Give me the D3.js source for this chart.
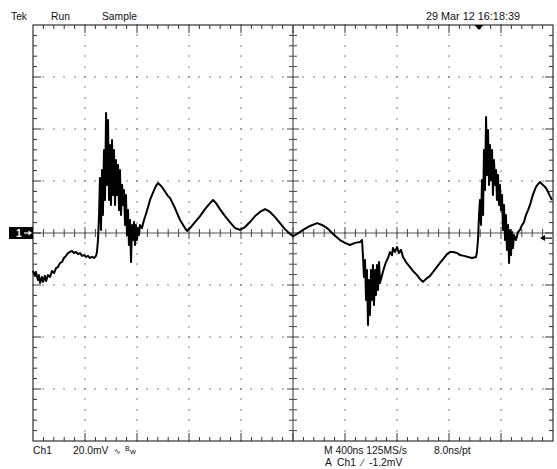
<!DOCTYPE html>
<html>
<head>
<meta charset="utf-8">
<script src="https://cdn.jsdelivr.net/npm/d3@7"></script>
<style>
  body { margin: 0; background: #fff; }
  svg text { font-family: "Liberation Sans", Arial, sans-serif; font-size: 10.3px; fill: #111; }
</style>
</head>
<body>
<svg id="scope" width="557" height="469"></svg>
<script>
// scope settings
const timeRange = [-2000, 2000];   // ns, 400 ns/div, 10 div
const voltRange = [-80, 80];       // mV, 20 mV/div, 8 div
const timePerDiv = 400;
const voltPerDiv = 20;
const triggerTime = 1430;          // ns, marker at top
const triggerLevel = -1.2;         // mV

const headerLabels = ["Tek", "Run", "Sample"];
const dateLabel = "29 Mar 12 16:18:39";
const footerLeft = ["Ch1", "20.0mV"];
const footerRight = ["M 400ns 125MS/s", "8.0ns/pt"];
const triggerLabel = "A  Ch1  \u2215  -1.2mV";

// trace: [time ns, mV]
const trace = [
  [-2000,-14.6],[-1985,-16.5],[-1977,-15.0],[-1962,-18.1],[-1954,-16.2],[-1946,-19.2],[-1931,-16.9],[-1923,-18.8],
  [-1908,-16.5],[-1900,-18.5],[-1885,-16.2],[-1869,-16.9],[-1854,-14.6],[-1838,-15.4],[-1823,-13.5],[-1808,-13.1],
  [-1792,-11.5],[-1777,-11.2],[-1762,-9.6],[-1746,-8.8],[-1731,-7.7],[-1715,-7.3],[-1700,-6.9],[-1685,-7.7],
  [-1669,-7.3],[-1654,-8.1],[-1638,-7.7],[-1623,-8.8],[-1608,-8.5],[-1592,-9.2],[-1577,-8.8],[-1562,-9.6],
  [-1546,-9.2],[-1531,-9.6],[-1515,-8.8],[-1508,-7.3],[-1500,-2.7],[-1492,6.9],[-1485,21.2],[-1477,1.2],
  [-1469,24.2],[-1462,6.9],[-1454,31.9],[-1446,12.7],[-1438,46.2],[-1431,18.5],[-1423,43.5],[-1415,12.7],
  [-1408,33.8],[-1400,10.8],[-1392,35.8],[-1385,14.6],[-1377,31.9],[-1369,10.8],[-1362,28.1],[-1354,14.6],
  [-1346,26.2],[-1338,8.8],[-1331,24.2],[-1323,6.9],[-1315,18.5],[-1308,10.8],[-1300,16.5],[-1292,3.1],
  [-1285,14.6],[-1277,-0.8],[-1269,8.8],[-1262,-4.6],[-1254,5.0],[-1246,-11.2],[-1238,3.1],[-1231,-2.7],
  [-1223,4.2],[-1215,-4.6],[-1208,3.1],[-1200,-2.7],[-1192,1.9],[-1185,-0.8],[-1177,3.1],[-1162,1.9],
  [-1146,5.0],[-1131,7.3],[-1115,10.0],[-1100,12.7],[-1085,14.6],[-1069,16.5],[-1054,18.1],[-1038,19.2],
  [-1023,18.5],[-1008,17.7],[-992,16.5],[-977,15.4],[-962,14.2],[-946,13.5],[-908,9.6],[-869,5.0],
  [-831,1.9],[-815,0.8],[-792,1.9],[-754,4.2],[-715,6.5],[-677,9.2],[-638,11.5],[-615,12.7],
  [-592,11.5],[-562,9.2],[-523,6.5],[-485,4.2],[-446,1.9],[-408,1.2],[-369,2.3],[-331,4.2],
  [-292,6.5],[-254,8.1],[-215,9.2],[-177,8.1],[-138,6.1],[-100,3.8],[-62,1.5],[-23,-0.4],
  [0,-1.2],[31,-0.4],[77,1.2],[131,2.7],[185,3.8],[223,3.1],[262,1.9],[308,-0.4],
  [362,-2.7],[400,-3.8],[438,-4.6],[477,-3.8],[515,-3.5],[531,-2.7],
  [538,-8.5],[546,-16.9],[554,-10.4],[562,-25.8],[569,-14.2],[577,-35.4],[585,-18.1],[592,-31.5],
  [600,-14.2],[608,-25.8],[615,-12.3],[623,-27.7],[631,-14.2],[638,-23.8],[646,-12.3],[654,-21.9],
  [662,-11.2],[669,-19.2],[685,-16.2],[700,-13.5],[715,-11.2],[731,-9.6],[746,-7.3],[762,-8.5],
  [769,-5.8],[785,-7.3],[800,-5.4],[815,-7.7],[831,-6.5],[846,-9.2],[869,-11.2],[900,-13.1],
  [923,-14.6],[954,-16.2],[977,-17.7],[1000,-18.8],[1023,-17.7],[1054,-16.5],[1077,-15.0],[1100,-13.5],
  [1131,-11.5],[1162,-9.6],[1185,-8.1],[1208,-7.3],[1231,-7.3],[1262,-7.7],[1285,-8.5],[1315,-8.8],
  [1346,-9.2],[1377,-9.6],[1408,-9.2],
  [1415,-7.3],[1423,-2.7],[1431,6.9],[1438,12.7],[1446,3.1],[1454,20.4],[1462,6.9],[1469,31.9],
  [1477,16.5],[1485,44.6],[1492,22.3],[1500,39.6],[1508,18.5],[1515,33.8],[1523,20.4],[1531,31.9],
  [1538,14.6],[1546,28.1],[1554,18.5],[1562,24.2],[1569,12.7],[1577,22.3],[1585,10.8],[1592,18.5],
  [1600,8.8],[1608,14.6],[1615,1.2],[1623,10.8],[1631,-2.7],[1638,6.9],[1646,-6.5],[1654,3.1],
  [1662,-11.5],[1669,1.2],[1677,-8.5],[1685,0.4],[1692,-5.8],[1700,-0.8],[1715,-2.7],[1731,0.4],
  [1746,1.2],[1762,3.1],[1777,4.2],[1792,6.9],[1808,8.8],[1823,10.8],[1838,13.5],[1854,15.8],
  [1869,17.7],[1885,18.8],[1900,19.6],[1915,18.8],[1931,18.1],[1946,17.3],[1962,15.8],[1977,14.2],
  [1992,12.7]
];

const svg = d3.select("#scope");
const x = d3.scaleLinear().domain(timeRange).range([33, 553]);
const y = d3.scaleLinear().domain(voltRange).range([441, 25]);

const xMajor = d3.range(timeRange[0], timeRange[1] + 1, timePerDiv);
const yMajor = d3.range(voltRange[0], voltRange[1] + 1, voltPerDiv);
const xMinor = d3.range(timeRange[0], timeRange[1] + 1, timePerDiv / 5);
const yMinor = d3.range(voltRange[0], voltRange[1] + 1, voltPerDiv / 5);

const grid = svg.append("g");

// dotted graticule lines
const dots = [];
xMajor.slice(1, -1).filter(t => t !== 0).forEach(t => yMinor.forEach(v => dots.push([t, v])));
yMajor.slice(1, -1).filter(v => v !== 0).forEach(v => xMinor.forEach(t => dots.push([t, v])));
grid.selectAll("rect.dot").data(dots).enter().append("rect")
  .attr("class", "dot")
  .attr("x", d => Math.round(x(d[0])) - 0.6)
  .attr("y", d => Math.round(y(d[1])) - 0.6)
  .attr("width", 1.3).attr("height", 1.3)
  .attr("fill", "#6a6a6a");

// centre cross
grid.append("line").attr("x1", x(timeRange[0])).attr("x2", x(timeRange[1]))
  .attr("y1", y(0)).attr("y2", y(0)).attr("stroke", "#555").attr("stroke-width", 1.2);
grid.append("line").attr("x1", x(0)).attr("x2", x(0))
  .attr("y1", y(voltRange[0])).attr("y2", y(voltRange[1])).attr("stroke", "#555").attr("stroke-width", 1.2);

grid.selectAll("line.ctx").data(xMinor.slice(1, -1)).enter().append("line")
  .attr("x1", d => x(d)).attr("x2", d => x(d))
  .attr("y1", d => y(0) - (d % timePerDiv === 0 ? 6 : 4))
  .attr("y2", d => y(0) + (d % timePerDiv === 0 ? 6 : 4))
  .attr("stroke", "#444").attr("stroke-width", 1);
grid.selectAll("line.cty").data(yMinor.slice(1, -1)).enter().append("line")
  .attr("y1", d => y(d)).attr("y2", d => y(d))
  .attr("x1", d => x(0) - (d % voltPerDiv === 0 ? 6 : 4))
  .attr("x2", d => x(0) + (d % voltPerDiv === 0 ? 6 : 4))
  .attr("stroke", "#444").attr("stroke-width", 1);

// frame and border ticks
grid.append("rect")
  .attr("x", x(timeRange[0])).attr("y", y(voltRange[1]))
  .attr("width", x(timeRange[1]) - x(timeRange[0]))
  .attr("height", y(voltRange[0]) - y(voltRange[1]))
  .attr("fill", "none").attr("stroke", "#333").attr("stroke-width", 1.2);

xMinor.slice(1, -1).forEach(t => {
  const len = t % timePerDiv === 0 ? 8 : 4;
  grid.append("line").attr("x1", x(t)).attr("x2", x(t))
    .attr("y1", y(voltRange[1])).attr("y2", y(voltRange[1]) + len).attr("stroke", "#333");
  grid.append("line").attr("x1", x(t)).attr("x2", x(t))
    .attr("y1", y(voltRange[0])).attr("y2", y(voltRange[0]) - len).attr("stroke", "#333");
});
yMinor.slice(1, -1).forEach(v => {
  const len = v % voltPerDiv === 0 ? 8 : 4;
  grid.append("line").attr("y1", y(v)).attr("y2", y(v))
    .attr("x1", x(timeRange[0])).attr("x2", x(timeRange[0]) + len).attr("stroke", "#333");
  grid.append("line").attr("y1", y(v)).attr("y2", y(v))
    .attr("x1", x(timeRange[1])).attr("x2", x(timeRange[1]) - len).attr("stroke", "#333");
});

// waveform
const line = d3.line().x(d => x(d[0])).y(d => y(d[1]));
svg.append("path").datum(trace)
  .attr("d", line)
  .attr("fill", "none").attr("stroke", "#000")
  .attr("stroke-width", 2).attr("stroke-linejoin", "round");

// trigger position marker (top)
const tx = x(triggerTime), ty = y(voltRange[1]);
svg.append("path")
  .attr("d", `M${tx - 4.5},${ty} L${tx + 4.5},${ty} L${tx},${ty + 5} Z`)
  .attr("fill", "#000");

// trigger level arrow (right)
const ly = y(triggerLevel) + 2;
svg.append("line").attr("x1", x(timeRange[1]) - 12).attr("x2", x(timeRange[1]) - 1)
  .attr("y1", ly).attr("y2", ly).attr("stroke", "#000").attr("stroke-width", 1.2);
svg.append("path")
  .attr("d", `M${x(timeRange[1]) - 13},${ly} l5,-3 l0,6 Z`).attr("fill", "#000");

// channel 1 ground marker (left)
const gy = y(0);
svg.append("rect").attr("x", 9).attr("y", gy - 6).attr("width", 24).attr("height", 12).attr("fill", "#000");
svg.append("text").attr("x", 16).attr("y", gy + 4).style("fill", "#fff").style("font-weight", "bold").text("1");
svg.append("line").attr("x1", 24).attr("x2", 31).attr("y1", gy).attr("y2", gy).attr("stroke", "#fff").attr("stroke-width", 1.2);
svg.append("path").attr("d", `M32,${gy} l-3.5,-2.5 l0,5 Z`).attr("fill", "#fff");

// header / footer text
const hx = [11, 51, 102];
svg.selectAll("text.hdr").data(headerLabels).enter().append("text")
  .attr("x", (d, i) => hx[i]).attr("y", 20).text(d => d);
svg.append("text").attr("x", 426).attr("y", 20)
  .attr("textLength", 94).attr("lengthAdjust", "spacingAndGlyphs").text(dateLabel);

svg.append("text").attr("x", 33).attr("y", 454).text(footerLeft[0]);
svg.append("text").attr("x", 73).attr("y", 454).text(footerLeft[1]);
svg.append("text").attr("x", 114).attr("y", 454).style("font-size", "8px").style("font-family", "DejaVu Sans").text("\u223F");
svg.append("text").attr("x", 125).attr("y", 451).style("font-size", "7px").text("B");
svg.append("text").attr("x", 130).attr("y", 454).style("font-size", "8px").text("w");

svg.append("text").attr("x", 324).attr("y", 454).text(footerRight[0]);
svg.append("text").attr("x", 434).attr("y", 454).text(footerRight[1]);
svg.append("text").attr("x", 325).attr("y", 466).attr("xml:space", "preserve").text(triggerLabel);
</script>
</body>
</html>
